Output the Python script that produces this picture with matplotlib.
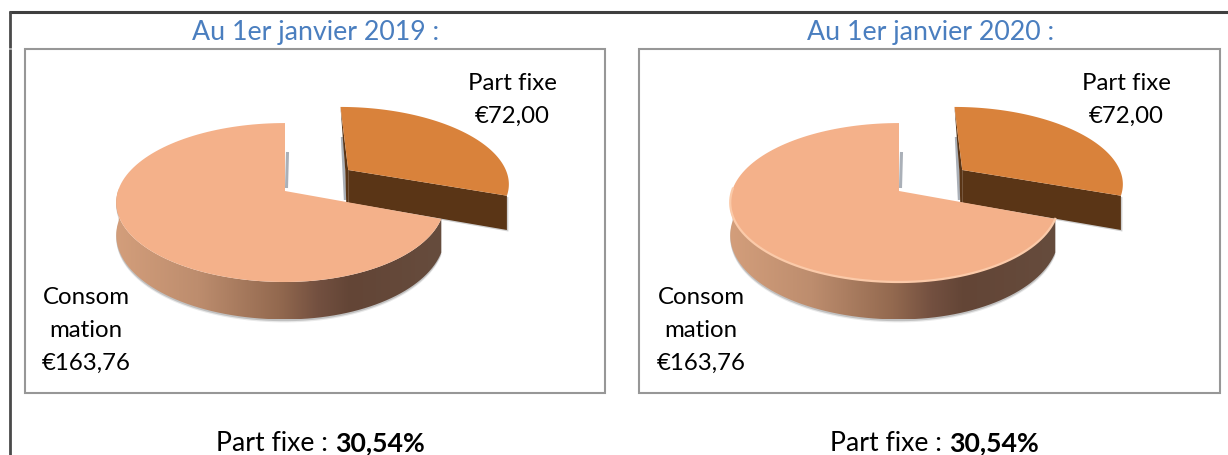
#!/usr/bin/python3

import numpy as np
import matplotlib
matplotlib.use("Agg")
import matplotlib.pyplot as plt
from matplotlib.colors import LinearSegmentedColormap
from matplotlib.patches import Polygon, Rectangle

plt.rcParams['font.family'] = ['Lato', 'DejaVu Sans']

# data
labels = ["Part fixe", "Consom\nmation"]
values = [72.00, 163.76]
value_labels = ["€72,00", "€163,76"]
titles = ["Au 1er janvier 2019 :", "Au 1er janvier 2020 :"]
shares = ["30,54%", "30,54%"]

# colours
TOP_MAIN = "#f4b18a"
TOP_SLICE = "#d9823b"
SIDE_SLICE = "#5a3516"
TITLE_BLUE = "#4a7ebf"
side_cmap = LinearSegmentedColormap.from_list(
    "side", [(0, "#d39e7b"), (0.25, "#bd8d6e"), (0.5, "#93694f"), (0.62, "#735040"),
             (0.72, "#634536"), (1, "#664c3d")])

# projection of the pie, in pixels
APEX_X, APEX_Y = 285, 192
WIDTH_L, WIDTH_R = 167, 158
WIDTH_SLICE = 164
HEIGHT = 77.8
PERSP = 0.145
DEPTH = 32
EXPLODE = 0.49
LABEL_SIZE = 17.3


def project(u, v, width_l, width_r, down=0.0):
    w = 1 + PERSP * v
    width = np.where(u < 0, width_l, width_r)
    return APEX_X + width * u / w, APEX_Y - HEIGHT * v / w + down / w


def sector(a0, a1, n=120):
    # angles clockwise from the top
    t = np.radians(np.linspace(a0, a1, n))
    return np.sin(t), np.cos(t)


def draw_pie(ax, dx, rim=False):
    angle = 360 * values[0] / sum(values)

    def pts(x, y):
        return np.column_stack([x + dx, y])

    # main part: side wall first, with its gradient
    u, v = sector(angle, 360)
    x_top, y_top = project(u, v, WIDTH_L, WIDTH_R)
    x_low, y_low = project(u, v, WIDTH_L, WIDTH_R, DEPTH)
    front = (v < 0.05) | (u > 0)
    side = np.vstack([pts(x_top[front], y_top[front]), pts(x_low[front], y_low[front])[::-1]])

    # soft shadow round the wall
    for off, alpha in [(3, 0.12), (1.8, 0.25)]:
        ax.add_patch(Polygon(side + [0, off], closed=True, fc="#4d4d4d", ec="none", alpha=alpha, zorder=2))

    poly = Polygon(side, closed=True, fc="none", ec="none", zorder=3)
    ax.add_patch(poly)
    img = ax.imshow(np.linspace(0, 1, 256)[None, :], cmap=side_cmap, aspect="auto", zorder=3,
                    extent=[side[:, 0].min(), side[:, 0].max(), side[:, 1].max(), side[:, 1].min()])
    img.set_clip_path(poly)

    # shadows in the gap, behind the cut faces
    ax.plot([APEX_X + dx + 2.5, APEX_X + dx + 1.5], [APEX_Y - 39, APEX_Y - 3], color="#aab0b8",
            lw=2.2, zorder=2, solid_capstyle="butt")

    x0, y0 = project(np.zeros(1), np.zeros(1), WIDTH_L, WIDTH_R)
    top = np.vstack([pts(x0, y0), pts(x_top, y_top)])
    ax.add_patch(Polygon(top, closed=True, fc=TOP_MAIN, ec="none", zorder=4))
    if rim:
        ax.plot(x_top[front] + dx, y_top[front], color="#fbcaa9", lw=1.6, zorder=5)

    # exploded slice
    mid = np.radians(angle / 2)
    du, dv = EXPLODE * np.sin(mid), EXPLODE * np.cos(mid)
    u, v = sector(0, angle)
    x_arc, y_arc = project(u + du, v + dv, WIDTH_SLICE, WIDTH_SLICE)
    x_apex, y_apex = project(np.array([du]), np.array([dv]), WIDTH_SLICE, WIDTH_SLICE)
    x_end, y_end = project(u[-1:] + du, v[-1:] + dv, WIDTH_SLICE, WIDTH_SLICE, DEPTH + 2)
    x_ap2, y_ap2 = project(np.array([du]), np.array([dv]), WIDTH_SLICE, WIDTH_SLICE, DEPTH + 2)

    ax.plot([x_apex[0] + dx - 6, x_apex[0] + dx - 3], [y_apex[0] - 33, y_apex[0] + 30], color="#aab0b8",
            lw=2, zorder=1.4, solid_capstyle="butt")

    wall = np.vstack([pts(x_apex, y_apex), pts(x_arc[-1:], y_arc[-1:]), pts(x_end, y_end), pts(x_ap2, y_ap2)])
    ax.add_patch(Polygon(wall + [1.5, 1.5], closed=True, fc="#777777", ec="none", alpha=0.35, zorder=1.5))
    ax.add_patch(Polygon(wall, closed=True, fc=SIDE_SLICE, ec="none", zorder=1.6))

    # thin dark edge on the back cut, then the top face
    back = np.vstack([pts(x_arc[:1], y_arc[:1]), pts(x_apex, y_apex), pts(x_ap2, y_ap2), pts(x_ap2 - 2, y_ap2), pts(x_apex - 3, y_apex)])
    ax.add_patch(Polygon(back, closed=True, fc=SIDE_SLICE, ec="none", zorder=1.6))
    face = np.vstack([pts(x_apex, y_apex), pts(x_arc, y_arc)])
    ax.add_patch(Polygon(face, closed=True, fc=TOP_SLICE, ec="none", zorder=1.7))


def draw_panel(ax, i, box_x, box_w, dx, center, label_x_r, label_x_l, split):
    ax.text(center, 40, titles[i], color=TITLE_BLUE, fontsize=19.3, ha="center", va="baseline")
    ax.add_patch(Rectangle((box_x, 50), box_w, 344, fc="white", ec="#979797", lw=1.5, zorder=0.5))
    draw_pie(ax, dx, rim=(i == 1))

    style = dict(fontsize=LABEL_SIZE, ha="center", va="baseline", color="black", zorder=6)
    ax.text(label_x_r, 90.5, labels[0], **style)
    ax.text(label_x_r, 122.5, value_labels[0], **style)
    first, second = labels[1].split("\n")
    ax.text(label_x_l, 304.5, first, **style)
    ax.text(label_x_l, 337, second, **style)
    ax.text(label_x_l, 369.5, value_labels[1], **style)

    ax.text(split, 451, "Part fixe : ", fontsize=19.2, ha="right", va="baseline", color="black")
    ax.text(split, 451, shares[i], fontsize=19.2, fontweight="bold", ha="left", va="baseline", color="black")


def main():
    fig = plt.figure(figsize=(12.28, 4.56), dpi=100)
    ax = fig.add_axes([0, 0, 1, 1])

    draw_panel(ax, 0, 25, 580, 0, 316, 512, 86, 335)
    draw_panel(ax, 1, 639, 581, 614, 931, 1126, 701, 949)

    # outer frame, top and left only
    ax.plot([9, 1228], [12.5, 12.5], color="#3f3f3f", lw=2.2, zorder=7, solid_capstyle="butt")
    ax.plot([10.3, 10.3], [12, 48.5], color="#4a4a4a", lw=2.0, zorder=7, solid_capstyle="butt")
    ax.plot([10.3, 10.3], [49.5, 456], color="#4a4a4a", lw=2.0, zorder=7, solid_capstyle="butt")

    ax.set_xlim(0, 1228)
    ax.set_ylim(456, 0)
    ax.axis("off")
    fig.savefig("out.png", dpi=100)
    return 0


if __name__ == '__main__':
    main()
